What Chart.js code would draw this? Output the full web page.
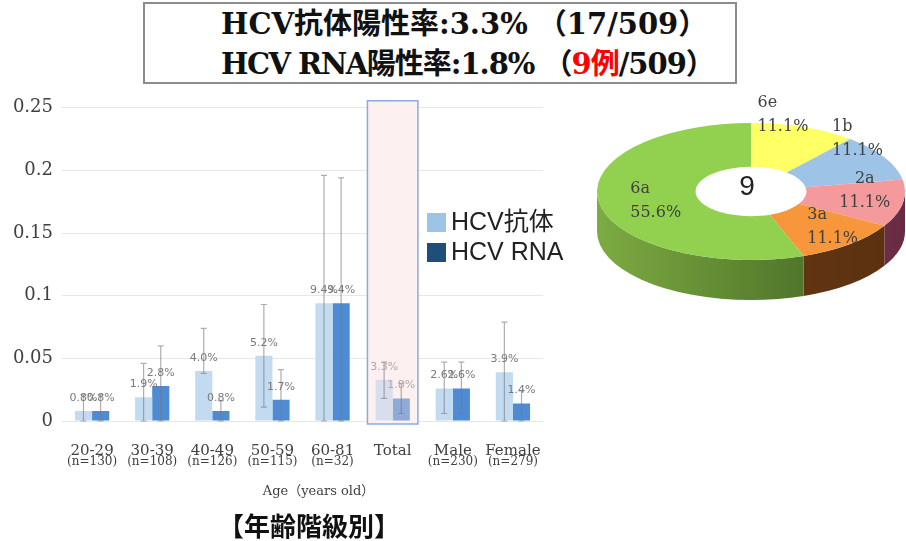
<!DOCTYPE html>
<html>
<head>
<meta charset="utf-8">
<script src="https://cdn.jsdelivr.net/npm/chart.js@4.4.1/dist/chart.umd.min.js"></script>
<style>
  body { margin: 0; width: 906px; height: 541px; overflow: hidden; background: #fff; position: relative; }
  #head { position: absolute; left: 143px; top: 2px; width: 590px; height: 78px; border: 2px solid #8c8c8c; }
  #head div { position: absolute; left: 76px; font: bold 29px "DejaVu Serif", "Noto Sans CJK JP", serif; color: #111; white-space: nowrap; line-height: 34px; }
  #l1 { top: 3px; }
  #l2 { top: 43px; letter-spacing: -1px; }
  #l2 .tight { letter-spacing: -1.5px; }
  .red { color: #ff0000; }
  #bars { position: absolute; left: 0; top: 88px; }
  #pie { position: absolute; left: 593px; top: 40px; }
  #group { position: absolute; left: 0; width: 618px; top: 506px; line-height: 30px; text-align: center; font: bold 26px "Noto Sans CJK JP", sans-serif; color: #111; }
</style>
</head>
<body>
<div id="head">
  <div id="l1">HCV抗体陽性率:3.3% （17/509）</div>
  <div id="l2"><span class="tight">HCV RNA</span>陽性率:1.8% （<span class="red">9例</span>/509）</div>
</div>
<canvas id="bars" width="600" height="420"></canvas>
<canvas id="pie" width="316" height="316"></canvas>
<div id="group">【年齢階級別】</div>
<script>
const categories = ['20-29', '30-39', '40-49', '50-59', '60-81', 'Total', 'Male', 'Female'];
const sampleSizes = ['(n=130)', '(n=108)', '(n=126)', '(n=115)', '(n=32)', '', '(n=230)', '(n=279)'];
const antibodyRate = [0.008, 0.019, 0.040, 0.052, 0.094, 0.033, 0.026, 0.039];
const rnaRate = [0.008, 0.028, 0.008, 0.017, 0.094, 0.018, 0.026, 0.014];
const antibodyLow = [0, 0, 0.038, 0.011, 0, 0.018, 0.006, 0];
const antibodyHigh = [0.021, 0.046, 0.074, 0.093, 0.196, 0.047, 0.047, 0.079];
const rnaLow = [0, 0, 0, 0, 0, 0.006, 0.006, 0];
const rnaHigh = [0.021, 0.060, 0.016, 0.041, 0.194, 0.030, 0.047, 0.024];
const yTickLabels = ['0', '0.05', '0.1', '0.15', '0.2', '0.25'];
const xTitle = 'Age（years old）';

const genotypes = ['6e', '1b', '2a', '3a', '6a'];
const genotypeCases = [1, 1, 1, 1, 5];

const totalIndex = categories.indexOf('Total');
const pick = (normal, faded) => categories.map((c, i) => (i === totalIndex ? faded : normal));

function totalBox(chart) {
  const { chartArea, scales: { x } } = chart;
  const cx = x.getPixelForValue(totalIndex);
  const hw = x.width / categories.length * 0.42;
  return { l: cx - hw, w: hw * 2, t: chartArea.top - 7, h: chartArea.bottom + 3 - (chartArea.top - 7) };
}

// Total highlight, error bars, value labels, n= line, axis title and legend
const barExtras = {
  id: 'barExtras',
  beforeDatasetsDraw(chart) {
    const ctx = chart.ctx;
    const b = totalBox(chart);
    ctx.save();
    ctx.fillStyle = '#fdf0f0';
    ctx.fillRect(b.l, b.t, b.w, b.h);
    ctx.restore();
  },
  afterDatasetsDraw(chart) {
    const { ctx, chartArea, scales: { x, y } } = chart;
    ctx.save();
    chart.data.datasets.forEach((ds, i) => {
      chart.getDatasetMeta(i).data.forEach((bar, j) => {
        const top = y.getPixelForValue(ds.high[j]);
        const bot = y.getPixelForValue(ds.low[j]);
        ctx.strokeStyle = 'rgba(120,120,120,0.6)';
        ctx.lineWidth = 1.2;
        ctx.beginPath();
        ctx.moveTo(bar.x, top); ctx.lineTo(bar.x, bot);
        ctx.moveTo(bar.x - 3, top); ctx.lineTo(bar.x + 3, top);
        ctx.moveTo(bar.x - 3, bot); ctx.lineTo(bar.x + 3, bot);
        ctx.stroke();
      });
    });
    ctx.font = '11px "DejaVu Sans"';
    ctx.textAlign = 'center';
    ctx.textBaseline = 'middle';
    chart.data.datasets.forEach((ds, i) => {
      chart.getDatasetMeta(i).data.forEach((bar, j) => {
        ctx.fillStyle = j === totalIndex ? '#b0a8ac' : '#7a7a7a';
        ctx.fillText((ds.data[j] * 100).toFixed(1) + '%', bar.x, bar.y - 13);
      });
    });

    ctx.font = '12px "DejaVu Serif"';
    ctx.fillStyle = '#404040';
    sampleSizes.forEach((t, i) => {
      ctx.fillText(t, x.getPixelForTick(i), chartArea.bottom + 41);
    });
    ctx.font = '13px "DejaVu Serif", "Noto Sans CJK JP"';
    ctx.fillText(xTitle, (chartArea.left + chartArea.right) / 2 + 16, chartArea.bottom + 71);

    const b = totalBox(chart);
    ctx.strokeStyle = '#8eaadb';
    ctx.lineWidth = 1.5;
    ctx.strokeRect(b.l, b.t, b.w, b.h);

    // legend box over the plot
    ctx.fillStyle = '#fff';
    ctx.fillRect(b.l + b.w + 2, 115, 175, 70);
    ctx.font = '25px "Liberation Sans", "Noto Sans CJK JP"';
    ctx.textAlign = 'left';
    chart.data.datasets.forEach((ds, i) => {
      const ly = 125 + i * 30;
      ctx.fillStyle = ds.legendColor;
      ctx.fillRect(427, ly, 19, 19);
      ctx.fillStyle = '#222';
      ctx.fillText(ds.label, 451, ly + 10);
    });
    ctx.restore();
  }
};

new Chart(document.getElementById('bars'), {
  type: 'bar',
  data: {
    labels: categories,
    datasets: [
      {
        label: 'HCV抗体',
        data: antibodyRate,
        backgroundColor: pick('#c3dbf1', '#d8deeb'),
        legendColor: '#9dc3e6',
        low: antibodyLow,
        high: antibodyHigh,
        categoryPercentage: 0.57,
        barPercentage: 1,
      },
      {
        label: 'HCV RNA',
        data: rnaRate,
        backgroundColor: pick('#4f8bd3', '#8ea9da'),
        legendColor: '#1f4e79',
        low: rnaLow,
        high: rnaHigh,
        categoryPercentage: 0.57,
        barPercentage: 1,
      },
    ],
  },
  options: {
    responsive: false,
    animation: false,
    layout: { padding: { left: 0, right: 57, top: 15, bottom: 0 } },
    plugins: { legend: { display: false }, tooltip: { enabled: false } },
    scales: {
      x: {
        grid: { display: false },
        border: { display: false },
        ticks: { font: { family: 'DejaVu Serif', size: 15 }, color: '#404040', padding: 13, maxRotation: 0 },
        afterFit: (s) => { s.height = 87; },
      },
      y: {
        min: 0,
        max: 0.25,
        grid: { color: '#e7e7e7', drawTicks: false },
        border: { display: false },
        ticks: {
          stepSize: 0.05,
          padding: 9,
          font: { family: 'DejaVu Serif', size: 18 },
          color: '#404040',
          callback: (v, i) => yTickLabels[i],
        },
        afterFit: (s) => { s.width = 62; },
      },
    },
  },
  plugins: [barExtras],
});

// fake 3D: side walls first, then the doughnut squashed vertically
const pie3d = {
  id: 'pie3d',
  beforeDatasetsDraw(chart, args, opts) {
    const ctx = chart.ctx;
    const arcs = chart.getDatasetMeta(0).data;
    const cx = arcs[0].x, cy = arcs[0].y, r = arcs[0].outerRadius;
    const ty = cy + opts.shiftY;
    arcs.forEach((arc, i) => {
      const s = Math.max(arc.startAngle, 0);
      const e = Math.min(arc.endAngle, Math.PI);
      if (e <= s) return;
      const g = ctx.createLinearGradient(cx - r, 0, cx + r, 0);
      g.addColorStop(0, opts.sides[i][0]);
      g.addColorStop(1, opts.sides[i][1]);
      ctx.fillStyle = g;
      ctx.beginPath();
      ctx.ellipse(cx, ty, r, r * opts.tilt, 0, s, e);
      ctx.ellipse(cx, ty + opts.depth, r, r * opts.tilt, 0, e, s, true);
      ctx.closePath();
      ctx.fill();
    });
    ctx.save();
    ctx.translate(cx, ty);
    ctx.scale(1, opts.tilt);
    ctx.translate(-cx, -cy);
  },
  afterDatasetsDraw(chart, args, opts) {
    const ctx = chart.ctx;
    ctx.restore();
    const arcs = chart.getDatasetMeta(0).data;
    const cx = arcs[0].x, cy = arcs[0].y, r = arcs[0].outerRadius;
    const ty = cy + opts.shiftY;
    const data = chart.data.datasets[0].data;
    const total = data.reduce((a, b) => a + b, 0);
    ctx.save();
    ctx.fillStyle = '#222';
    ctx.font = '28px "Liberation Sans"';
    ctx.textAlign = 'center';
    ctx.textBaseline = 'middle';
    ctx.fillText(String(total), cx - 4, ty - 4);
    ctx.font = '16px "DejaVu Serif"';
    ctx.fillStyle = '#404040';
    arcs.forEach((arc, i) => {
      const mid = (arc.startAngle + arc.endAngle) / 2;
      const px = cx + r * 0.75 * Math.cos(mid) + opts.labelOffsets[i][0];
      const py = ty + r * 0.75 * Math.sin(mid) * opts.tilt + opts.labelOffsets[i][1];
      ctx.textAlign = opts.labelAlign[i];
      ctx.fillText(chart.data.labels[i], px, py);
      ctx.fillText((data[i] / total * 100).toFixed(1) + '%', px, py + 24);
    });
    ctx.restore();
  },
};

new Chart(document.getElementById('pie'), {
  type: 'doughnut',
  data: {
    labels: genotypes,
    datasets: [{
      data: genotypeCases,
      backgroundColor: ['#ffff66', '#9dc3e6', '#f4999c', '#f7963a', '#92d050'],
      borderWidth: 0,
      clip: false,
    }],
  },
  options: {
    responsive: false,
    animation: false,
    cutout: '36%',
    layout: { padding: 4 },
    plugins: {
      legend: { display: false },
      tooltip: { enabled: false },
      pie3d: {
        tilt: 0.445,
        depth: 40,
        shiftY: -6.5,
        sides: [
          ['#a0a040', '#a0a040'],
          ['#5a7a9a', '#5a7a9a'],
          ['#7a3850', '#6a2c44'],
          ['#6e3f16', '#5a3010'],
          ['#7cab42', '#3b5c1f'],
        ],
        labelOffsets: [[-33, -40], [-19, -39], [0, -22], [-18, -16], [-7, -12]],
        labelAlign: ['left', 'left', 'center', 'left', 'left'],
      },
    },
  },
  plugins: [pie3d],
});
</script>
</body>
</html>
